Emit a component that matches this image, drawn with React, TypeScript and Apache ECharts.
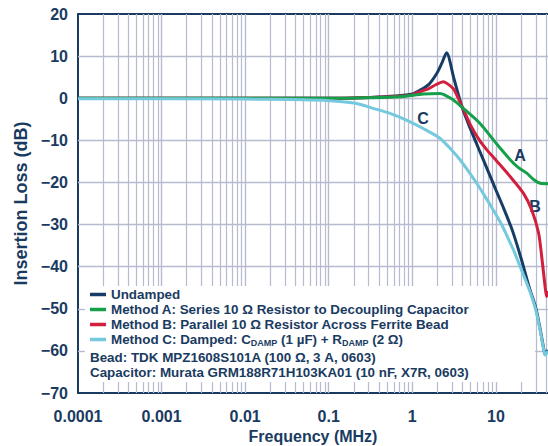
import React, { useEffect, useRef } from "react";
import * as echarts from "echarts";

// ---------- data (frequency in MHz, insertion loss in dB) ----------
const undamped: [number, number][] = [
  [0.0001, 0], [0.1, 0], [0.316, 0.2], [0.63, 0.5], [1.0, 1.0], [1.26, 2.0], [1.58, 3.3],
  [1.95, 5.8], [2.24, 8.2], [2.57, 10.8], [3.16, 4.5], [3.98, -2.4], [5.01, -7.5],
  [6.31, -12.3], [7.94, -17], [10, -21.8], [12.6, -26.5], [15.8, -31.5], [20, -38],
  [25.1, -45], [30.2, -50], [34.7, -56], [38.0, -60.3], [38.9, -60.8], [42, -59.8],
];
const methodA: [number, number][] = [
  [0.0001, 0], [0.1, 0], [0.71, 0.35], [1.35, 1.0], [2.14, 1.15], [3.09, -0.4],
  [4.07, -2.4], [6.46, -6], [9.33, -9.9], [11.2, -11.8], [14.8, -14.6], [18.6, -16.5],
  [23.4, -17.8], [28.2, -19.3], [33.9, -20.2], [42, -20.3],
];
const methodB: [number, number][] = [
  [0.0001, 0], [0.1, 0], [0.5, 0.3], [0.85, 0.6], [1.0, 0.8], [1.26, 1.6], [1.58, 2.3],
  [1.91, 3.2], [2.34, 3.9], [2.82, 3.0], [3.16, 2.0], [3.98, -2.2], [5.01, -6.5],
  [6.46, -10.2], [7.76, -12.2], [10.2, -14.9], [14.8, -18.6], [21.4, -22.6],
  [26.9, -26.6], [32.4, -32], [35.5, -38], [38.9, -45], [40.4, -47.1], [42, -45.8],
];
const methodC: [number, number][] = [
  [0.0001, -0.1], [0.01, -0.2], [0.035, -0.3], [0.085, -0.5], [0.21, -1.2], [0.34, -2.4],
  [0.54, -3.6], [0.85, -5.2], [1.35, -7.2], [2.14, -9.5], [2.95, -12.3], [3.72, -14.6],
  [4.68, -17.3], [5.89, -20.2], [7.41, -23.3], [9.33, -26.6], [11.7, -30], [14.1, -33.4],
  [16.6, -36.5], [19.5, -40], [25.1, -45.5], [30.2, -50.5], [34.7, -56.3], [38.0, -60.5],
  [38.9, -61], [42, -60],
];

const seriesNames = [
  "Undamped",
  "Method A: Series 10 Ω Resistor to Decoupling Capacitor",
  "Method B: Parallel 10 Ω Resistor Across Ferrite Bead",
  "Method C: Damped: CDAMP (1 µF) + RDAMP (2 Ω)",
];
const curveLabels: { text: string; freq: number; db: number }[] = [
  { text: "A", freq: 19.4, db: -13.5 },
  { text: "B", freq: 29.3, db: -25.6 },
  { text: "C", freq: 1.34, db: -4.7 },
];
const notes = [
  "Bead: TDK MPZ1608S101A (100 Ω, 3 A, 0603)",
  "Capacitor: Murata GRM188R71H103KA01 (10 nF, X7R, 0603)",
];

const xTickLabels = ["0.0001", "0.001", "0.01", "0.1", "1", "10"];
const decades = [0.0001, 0.001, 0.01, 0.1, 1, 10];
const minorMultipliers = [2, 3, 4, 5, 6, 7, 8, 9];
const freqMin = 0.0001;
const freqMax = 42;
const dbMin = -70;
const dbMax = 20;
const dbStep = 10;
// region kept free of grid lines behind the legend block (freq in MHz, dB)
const legendClear = { fLeft: 0.000121, fRight: 29.4, dbTop: -44.6, dbBottom: -67.4 };

// ---------- style ----------
const FONT = '"Liberation Sans", Arial, Helvetica, sans-serif';
const NAVY = "#1a3b61";
const GRID = "#b7bbcf";
const colors = ["#173d67", "#14a04b", "#d21f3e", "#74c9dd"];

const lg = (f: number) => Math.log10(f);

export default function App() {
  const ref = useRef<HTMLDivElement>(null);
  useEffect(() => {
    if (!ref.current) return;
    const chart = echarts.init(ref.current, undefined, { renderer: "svg" });

    const xL = lg(freqMin);
    const xR = lg(freqMax);
    const bL = lg(legendClear.fLeft);
    const bR = lg(legendClear.fRight);
    const gridSegs: any[] = [];
    const seg = (x1: number, y1: number, x2: number, y2: number, major: boolean) =>
      gridSegs.push([
        { coord: [x1, y1], lineStyle: { color: GRID, width: major ? 1.4 : 1.2, type: "solid" } },
        { coord: [x2, y2] },
      ]);
    // vertical lines (decades + minor multiples)
    decades.forEach((d) => {
      const list = [{ f: d, major: true }, ...minorMultipliers.map((m) => ({ f: d * m, major: false }))];
      list.forEach(({ f, major }) => {
        if (f <= freqMin || f >= freqMax) return;
        const x = lg(f);
        if (x > bL && x < bR) {
          seg(x, dbMax, x, legendClear.dbTop, major);
          seg(x, legendClear.dbBottom, x, dbMin, major);
        } else {
          seg(x, dbMax, x, dbMin, major);
        }
      });
    });
    // horizontal lines
    for (let db = dbMin + dbStep; db < dbMax; db += dbStep) {
      if (db < legendClear.dbTop && db > legendClear.dbBottom) {
        seg(xL, db, bL, db, true);
        seg(bR, db, xR, db, true);
      } else {
        seg(xL, db, xR, db, true);
      }
    }

    const datasets = [undamped, methodA, methodB, methodC];
    const drawOrder = [0, 2, 1, 3];

    const lineSeries: any[] = [
      {
        name: "grid",
        type: "line",
        data: [],
        z: 1,
        silent: true,
        markLine: {
          silent: true,
          symbol: "none",
          label: { show: false },
          lineStyle: { color: GRID, width: 1.2, type: "solid" },
          data: gridSegs,
        },
      },
    ];

    drawOrder.forEach((i) =>
      lineSeries.push({
        name: seriesNames[i],
        type: "line",
        data: datasets[i].map(([f, db]) => [lg(f), db]),
        showSymbol: false,
        symbol: "none",
        smooth: 0.25,
        color: colors[i],
        lineStyle: { color: colors[i], width: 3 },
        z: 5,
        silent: true,
      })
    );

    lineSeries.push({
      name: "labels",
      type: "line",
      data: [],
      z: 6,
      markPoint: {
        symbol: "circle",
        symbolSize: 1,
        itemStyle: { color: "rgba(0,0,0,0)" },
        label: {
          show: true,
          position: "inside",
          formatter: (p: any) => p.name,
          color: NAVY,
          fontFamily: FONT,
          fontWeight: "bold",
          fontSize: 16,
        },
        data: curveLabels.map((c) => ({ name: c.text, coord: [lg(c.freq), c.db] })),
      },
    });

    const LFS = 13.4;
    const richText = {
      t: { fontFamily: FONT, fontWeight: "bold", fontSize: LFS, color: NAVY, lineHeight: 15 },
      s: {
        fontFamily: FONT,
        fontWeight: "bold",
        fontSize: 9,
        color: NAVY,
        lineHeight: 9,
        verticalAlign: "bottom",
      },
    };

    chart.setOption({
      animation: false,
      grid: {
        left: 78,
        right: 0,
        top: 14,
        bottom: 53,
        containLabel: false,
        outerBoundsMode: "none",
      },
      xAxis: [
        {
          type: "value",
          min: xL,
          max: xR,
          interval: 1,
          name: "Frequency (MHz)",
          nameLocation: "middle",
          nameGap: 35,
          nameTextStyle: { fontFamily: FONT, fontWeight: "bold", fontSize: 16, color: NAVY },
          axisLine: { show: true, onZero: false, lineStyle: { color: NAVY, width: 2 } },
          axisTick: { show: false },
          axisLabel: {
            margin: 15,
            fontFamily: FONT,
            fontWeight: "bold",
            fontSize: 16,
            color: NAVY,
            showMaxLabel: false,
            formatter: (v: number) => {
              const r = Math.round(v);
              if (Math.abs(v - r) > 1e-6) return "";
              const idx = r - xL;
              return xTickLabels[Math.round(idx)] ?? "";
            },
          },
          splitLine: { show: false },
          z: 3,
        },
        {
          type: "value",
          position: "top",
          min: xL,
          max: xR,
          interval: 1,
          axisLine: { show: true, onZero: false, lineStyle: { color: NAVY, width: 2 } },
          axisTick: { show: false },
          axisLabel: { show: false },
          splitLine: { show: false },
          z: 3,
        },
      ],
      yAxis: {
        type: "value",
        min: dbMin,
        max: dbMax,
        interval: dbStep,
        name: "Insertion Loss (dB)",
        nameLocation: "middle",
        nameGap: 44,
        nameTextStyle: { fontFamily: FONT, fontWeight: "bold", fontSize: 18, color: NAVY },
        axisLine: { show: true, onZero: false, lineStyle: { color: NAVY, width: 2 } },
        axisTick: { show: false },
        axisLabel: {
          margin: 10,
          fontFamily: FONT,
          fontWeight: "bold",
          fontSize: 16,
          color: NAVY,
          formatter: (v: number) => (v < 0 ? "\u2212" + Math.abs(v) : String(v)),
        },
        splitLine: { show: false },
        z: 3,
      },
      legend: {
        orient: "vertical",
        left: 90,
        top: 287,
        z: 7,
        padding: 0,
        itemGap: 0,
        itemWidth: 16,
        itemHeight: 3.5,
        selectedMode: false,
        icon: "rect",
        data: seriesNames.map((n, i) => ({ name: n, itemStyle: { color: colors[i] } })),
        textStyle: { fontFamily: FONT, fontWeight: "bold", fontSize: LFS, color: NAVY, lineHeight: 15, rich: richText },
        formatter: (name: string) => {
          if (name === seriesNames[3]) {
            return "{t|Method C: Damped: C}{s|DAMP}{t| (1 µF) + R}{s|DAMP}{t| (2 Ω)}";
          }
          return "{t|" + name + "}";
        },
      },
      graphic: notes.map((n, i) => ({
        type: "text",
        z: 7,
        left: 90,
        top: 351 + i * 14.5,
        style: {
          text: n,
          fontFamily: FONT,
          fontWeight: "bold",
          fontSize: LFS,
          fill: NAVY,
        },
      })),
      series: lineSeries,
    });

    return () => chart.dispose();
  }, []);

  return (
    <div
      ref={ref}
      style={{ position: "fixed", left: 0, top: 0, width: 548, height: 446, background: "#fff" }}
    />
  );
}
